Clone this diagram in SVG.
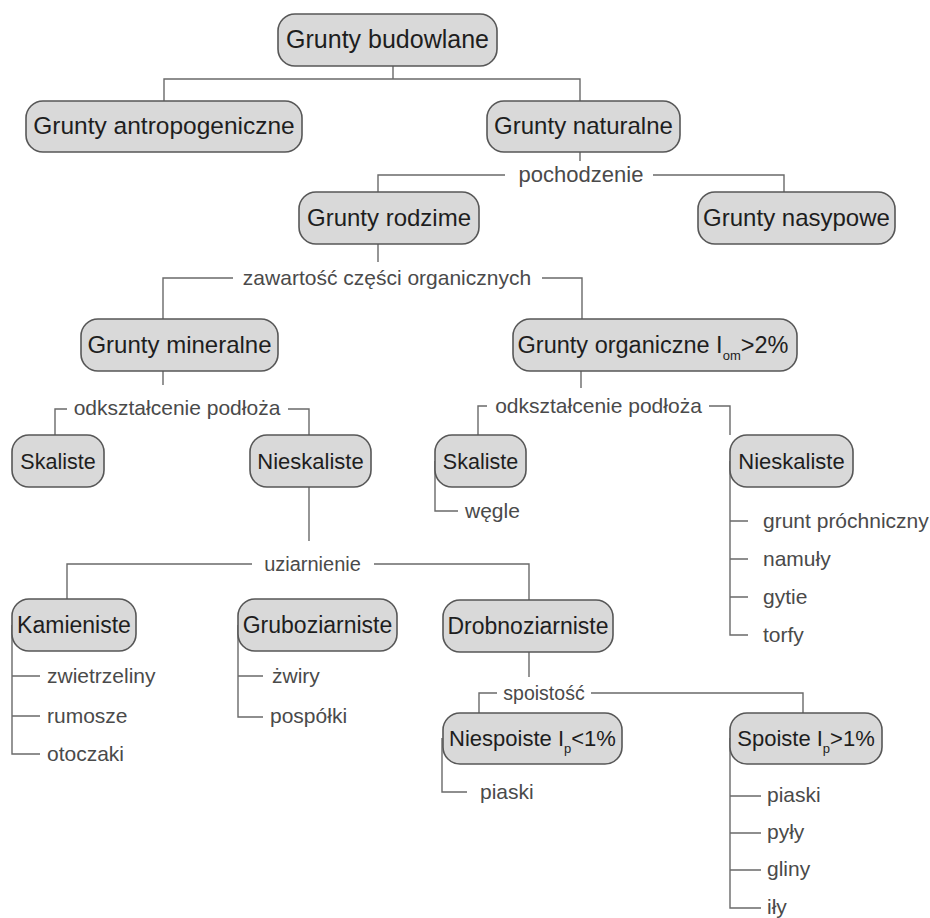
<svg xmlns="http://www.w3.org/2000/svg" width="930" height="918" viewBox="0 0 930 918">
<style>
.box{fill:#d9d9d9;stroke:#575757;stroke-width:1.6}
.nt{font-family:"Liberation Sans",Arial,sans-serif;font-size:24px;fill:#1e1e1e;text-anchor:middle}
.lb{font-family:"Liberation Sans",Arial,sans-serif;font-size:21px;fill:#4a4a4a;text-anchor:middle}
.lf{font-family:"Liberation Sans",Arial,sans-serif;font-size:21px;fill:#4a4a4a}
.sub{font-size:13px}
.con path{fill:none;stroke:#6a6a6a;stroke-width:1.4}
</style>
<rect width="930" height="918" fill="#ffffff"/>
<g id="connectors" class="con">
<path d="M393,66 V79 M164,101 V79 H580 V101"/>
<path d="M580,152 V161 M378,192 V175 H505 M653,175 H784 V192"/>
<path d="M378,244 V262 M163,319 V278 H233 M542,278 H582 V319"/>
<path d="M163,371 V385 M55,435 V409 H67 M288,409 H309 V435"/>
<path d="M581,371 V388 M478,435 V406 H487 M709,406 H730 V435"/>
<path d="M435,461 V511 H458"/>
<path d="M730,461 V635 H748 M730,521 H748 M730,559 H748 M730,597 H748"/>
<path d="M309,487 V541 M67,599 V564 H252 M374,564 H529 V600"/>
<path d="M12,625 V754 H40 M12,676 H40 M12,716 H40"/>
<path d="M238,625 V717 H263 M238,676 H263"/>
<path d="M529,652 V677 M479,713 V693 H497 M591,693 H803 V713"/>
<path d="M442,738 V792 H467"/>
<path d="M730,738 V908 H761 M730,796 H761 M730,833 H761 M730,870 H761"/>
</g>
<g id="labels">
<text class="lb" x="581" y="182" style="font-size:22px">pochodzenie</text>
<text class="lb" x="387" y="285">zawartość części organicznych</text>
<text class="lb" x="177" y="415">odkształcenie podłoża</text>
<text class="lb" x="598.5" y="413">odkształcenie podłoża</text>
<text class="lb" x="312.5" y="571" style="font-size:20px">uziarnienie</text>
<text class="lb" x="544" y="700" style="font-size:19.5px">spoistość</text>
</g>
<g id="n1"><rect class="box" x="278" y="14" width="219" height="52" rx="17"/><text class="nt" x="387.5" y="48" style="font-size:25px">Grunty budowlane</text></g>
<g id="n2"><rect class="box" x="26" y="101" width="276" height="51" rx="17"/><text class="nt" x="164" y="134" style="font-size:24.5px">Grunty antropogeniczne</text></g>
<g id="n3"><rect class="box" x="487" y="101" width="193" height="51" rx="17"/><text class="nt" x="583.5" y="134">Grunty naturalne</text></g>
<g id="n4"><rect class="box" x="299" y="192" width="180" height="52" rx="17"/><text class="nt" x="389" y="226">Grunty rodzime</text></g>
<g id="n5"><rect class="box" x="698" y="192" width="197" height="52" rx="17"/><text class="nt" x="796.5" y="226">Grunty nasypowe</text></g>
<g id="n6"><rect class="box" x="81" y="319" width="197" height="52" rx="17"/><text class="nt" x="179.5" y="353">Grunty mineralne</text></g>
<g id="n7"><rect class="box" x="513" y="319" width="284" height="52" rx="17"/><text class="nt" x="653" y="353" style="font-size:23.5px">Grunty organiczne I<tspan class="sub" dy="7">om</tspan><tspan dy="-7">&gt;2%</tspan></text></g>
<g id="n8"><rect class="box" x="12" y="435" width="92" height="52" rx="17"/><text class="nt" x="58" y="469" style="font-size:21.5px">Skaliste</text></g>
<g id="n9"><rect class="box" x="250" y="435" width="121" height="52" rx="17"/><text class="nt" x="310.5" y="469" style="font-size:22px">Nieskaliste</text></g>
<g id="n10"><rect class="box" x="435" y="435" width="91" height="52" rx="17"/><text class="nt" x="480.5" y="469" style="font-size:21.5px">Skaliste</text></g>
<g id="n11"><rect class="box" x="730" y="435" width="123" height="52" rx="17"/><text class="nt" x="791.5" y="469" style="font-size:22px">Nieskaliste</text></g>
<g id="n12"><rect class="box" x="12" y="599" width="124" height="52" rx="17"/><text class="nt" x="74" y="633" style="font-size:23px">Kamieniste</text></g>
<g id="n13"><rect class="box" x="238" y="599" width="159" height="52" rx="17"/><text class="nt" x="317.5" y="633" style="font-size:23px">Gruboziarniste</text></g>
<g id="n14"><rect class="box" x="443" y="600" width="170" height="52" rx="17"/><text class="nt" x="528" y="634" style="font-size:23px">Drobnoziarniste</text></g>
<g id="n15"><rect class="box" x="443" y="713" width="179" height="51" rx="17"/><text class="nt" x="532.5" y="746" style="font-size:22px">Niespoiste I<tspan class="sub" dy="7">p</tspan><tspan dy="-7">&lt;1%</tspan></text></g>
<g id="n16"><rect class="box" x="730" y="713" width="152" height="51" rx="17"/><text class="nt" x="806" y="746" style="font-size:22px">Spoiste I<tspan class="sub" dy="7">p</tspan><tspan dy="-7">&gt;1%</tspan></text></g>
<g id="leaves">
<text class="lf" x="465" y="518">węgle</text>
<text class="lf" x="763" y="528">grunt próchniczny</text>
<text class="lf" x="763" y="566">namuły</text>
<text class="lf" x="763" y="604">gytie</text>
<text class="lf" x="763" y="642">torfy</text>
<text class="lf" x="47" y="683">zwietrzeliny</text>
<text class="lf" x="47" y="723">rumosze</text>
<text class="lf" x="47" y="761">otoczaki</text>
<text class="lf" x="272" y="683">żwiry</text>
<text class="lf" x="270" y="723">pospółki</text>
<text class="lf" x="480" y="799">piaski</text>
<text class="lf" x="767" y="802">piaski</text>
<text class="lf" x="767" y="839">pyły</text>
<text class="lf" x="767" y="876">gliny</text>
<text class="lf" x="767" y="914">iły</text>
</g>
</svg>
